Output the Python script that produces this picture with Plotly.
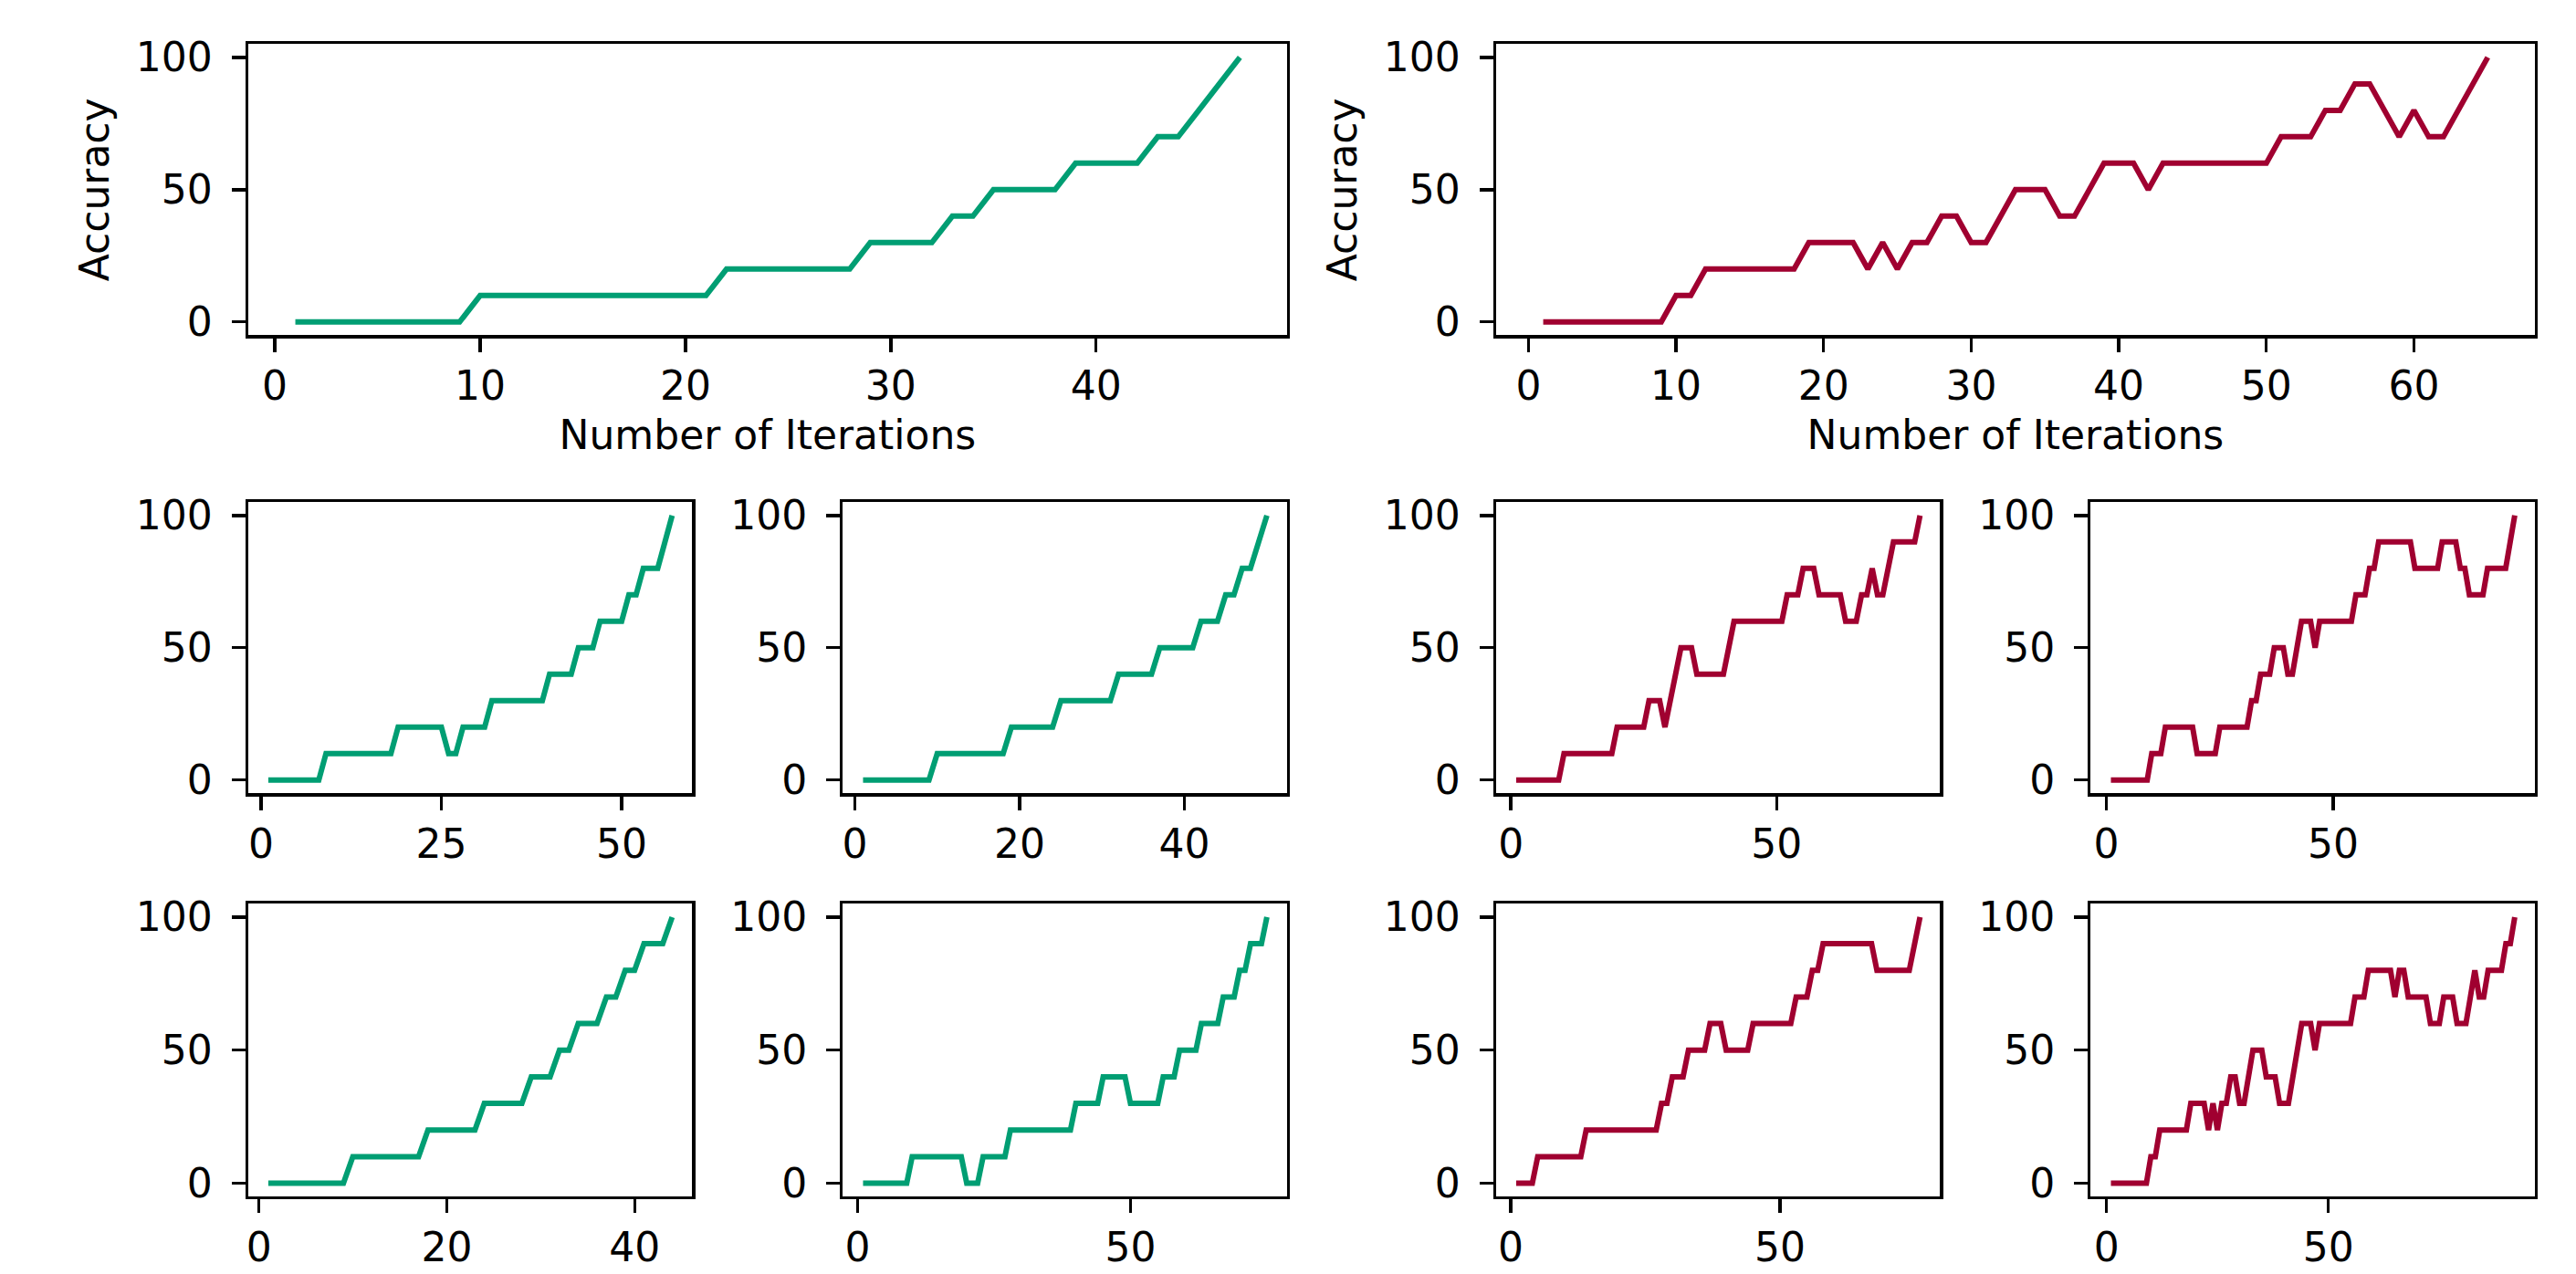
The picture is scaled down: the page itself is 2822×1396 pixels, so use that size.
import plotly.graph_objects as go

# ---------------- data (accuracy %, one value per iteration) ----------------
acc_green_main = [0, 0, 0, 0, 0, 0, 0, 0, 0,
                  10, 10, 10, 10, 10, 10, 10, 10, 10, 10, 10, 10,
                  20, 20, 20, 20, 20, 20, 20,
                  30, 30, 30, 30, 40, 40, 50, 50, 50, 50,
                  60, 60, 60, 60, 70, 70, 80, 90, 100]

acc_red_main = [0, 0, 0, 0, 0, 0, 0, 0, 0, 10, 10,
                20, 20, 20, 20, 20, 20, 20,
                30, 30, 30, 30, 20, 30, 20, 30, 30, 40, 40, 30, 30, 40,
                50, 50, 50, 40, 40, 50, 60, 60, 60, 50,
                60, 60, 60, 60, 60, 60, 60, 60,
                70, 70, 70, 80, 80, 90, 90, 80, 70, 80, 70, 70, 80, 90, 100]

acc_green_1 = [0, 0, 0, 0, 0, 0, 0, 0,
               10, 10, 10, 10, 10, 10, 10, 10, 10, 10,
               20, 20, 20, 20, 20, 20, 20, 10, 10, 20, 20, 20, 20,
               30, 30, 30, 30, 30, 30, 30, 30,
               40, 40, 40, 40, 50, 50, 50, 60, 60, 60, 60,
               70, 70, 80, 80, 80, 90, 100]

acc_green_2 = [0, 0, 0, 0, 0, 0, 0, 0, 0,
               10, 10, 10, 10, 10, 10, 10, 10, 10,
               20, 20, 20, 20, 20, 20,
               30, 30, 30, 30, 30, 30, 30,
               40, 40, 40, 40, 40, 50, 50, 50, 50, 50,
               60, 60, 60, 70, 70, 80, 80, 90, 100]

acc_green_3 = [0, 0, 0, 0, 0, 0, 0, 0, 0,
               10, 10, 10, 10, 10, 10, 10, 10,
               20, 20, 20, 20, 20, 20,
               30, 30, 30, 30, 30, 40, 40, 40, 50, 50,
               60, 60, 60, 70, 70, 80, 80, 90, 90, 90, 100]

acc_green_4 = [0, 0, 0, 0, 0, 0, 0, 0, 0,
               10, 10, 10, 10, 10, 10, 10, 10, 10, 10,
               0, 0, 0, 10, 10, 10, 10, 10,
               20, 20, 20, 20, 20, 20, 20, 20, 20, 20, 20, 20,
               30, 30, 30, 30, 30, 40, 40, 40, 40, 40,
               30, 30, 30, 30, 30, 30, 40, 40, 40,
               50, 50, 50, 50, 60, 60, 60, 60, 70, 70, 70,
               80, 80, 90, 90, 90, 100]

acc_red_1 = [0, 0, 0, 0, 0, 0, 0, 0, 0,
             10, 10, 10, 10, 10, 10, 10, 10, 10, 10,
             20, 20, 20, 20, 20, 20, 30, 30, 30, 20, 30, 40, 50, 50, 50,
             40, 40, 40, 40, 40, 40, 50,
             60, 60, 60, 60, 60, 60, 60, 60, 60, 60,
             70, 70, 70, 80, 80, 80, 70, 70, 70, 70, 70,
             60, 60, 60, 70, 70, 80, 70, 70, 80, 90, 90, 90, 90, 90, 100]

acc_red_2 = [0, 0, 0, 0, 0, 0, 0, 0, 0, 10, 10, 10,
             20, 20, 20, 20, 20, 20, 20, 10, 10, 10, 10, 10,
             20, 20, 20, 20, 20, 20, 20, 30, 30, 40, 40, 40,
             50, 50, 50, 40, 40, 50, 60, 60, 60, 50,
             60, 60, 60, 60, 60, 60, 60, 60, 70, 70, 70, 80, 80,
             90, 90, 90, 90, 90, 90, 90, 90, 80, 80, 80, 80, 80, 80,
             90, 90, 90, 90, 80, 80, 70, 70, 70, 70,
             80, 80, 80, 80, 80, 90, 100]

acc_red_3 = [0, 0, 0, 0, 10, 10, 10, 10, 10, 10, 10, 10, 10,
             20, 20, 20, 20, 20, 20, 20, 20, 20, 20, 20, 20, 20, 20,
             30, 30, 40, 40, 40, 50, 50, 50, 50, 60, 60, 60,
             50, 50, 50, 50, 50, 60, 60, 60, 60, 60, 60, 60, 60,
             70, 70, 70, 80, 80,
             90, 90, 90, 90, 90, 90, 90, 90, 90, 90,
             80, 80, 80, 80, 80, 80, 80, 90, 100]

acc_red_4 = [0, 0, 0, 0, 0, 0, 0, 0, 0, 10, 10,
             20, 20, 20, 20, 20, 20, 20, 30, 30, 30, 30,
             20, 30, 20, 30, 30, 40, 40, 30, 30, 40, 50, 50, 50,
             40, 40, 40, 30, 30, 30, 40, 50, 60, 60, 60, 50,
             60, 60, 60, 60, 60, 60, 60, 60, 70, 70, 70,
             80, 80, 80, 80, 80, 80, 70, 80, 80, 70, 70, 70, 70, 70,
             60, 60, 60, 70, 70, 70, 60, 60, 60, 70, 80, 70, 70,
             80, 80, 80, 80, 90, 90, 100]

xticks_main_green = [0, 10, 20, 30, 40]
xticks_main_red = [0, 10, 20, 30, 40, 50, 60]
xticks_g1 = [0, 25, 50]
xticks_g2 = [0, 20, 40]
xticks_g3 = [0, 20, 40]
xticks_50 = [0, 50]
yticks = [0, 50, 100]

x_title = "Number of Iterations"
y_title = "Accuracy"

GREEN = "#009E73"
RED = "#A00030"

# ---------------- layout (pixel boxes) ----------------
W, H = 2822, 1396
col_l = [(270, 757), (922, 1409)]
col_r = [(1638, 2125), (2290, 2777)]
row_top = (38, 362)
row_mid = (548, 872)
row_bot = (995, 1321)

panels = [
    (acc_green_main, GREEN, xticks_main_green, (270, 1409), row_top, True),
    (acc_red_main, RED, xticks_main_red, (1638, 2777), row_top, True),
    (acc_green_1, GREEN, xticks_g1, col_l[0], row_mid, False),
    (acc_green_2, GREEN, xticks_g2, col_l[1], row_mid, False),
    (acc_red_1, RED, xticks_50, col_r[0], row_mid, False),
    (acc_red_2, RED, xticks_50, col_r[1], row_mid, False),
    (acc_green_3, GREEN, xticks_g3, col_l[0], row_bot, False),
    (acc_green_4, GREEN, xticks_50, col_l[1], row_bot, False),
    (acc_red_3, RED, xticks_50, col_r[0], row_bot, False),
    (acc_red_4, RED, xticks_50, col_r[1], row_bot, False),
]

font = dict(family="DejaVu Sans", size=44, color="black")
common = dict(showline=True, mirror=True, linecolor="black", linewidth=3.3,
              ticks="outside", ticklen=15, tickwidth=3.3, tickcolor="black",
              showgrid=False, zeroline=False, tickfont=font)

fig = go.Figure()
layout = {}
for i, (acc, color, xt, (x0, x1), (y0, y1), titled) in enumerate(panels, start=1):
    sfx = "" if i == 1 else str(i)
    n = len(acc)
    iters = list(range(1, n + 1))
    fig.add_trace(go.Scatter(x=iters, y=acc, mode="lines",
                             line=dict(color=color, width=6),
                             xaxis="x" + sfx, yaxis="y" + sfx,
                             showlegend=False, hoverinfo="skip"))
    pad = 0.05 * (n - 1)
    xa = dict(common, domain=[x0 / W, x1 / W], anchor="y" + sfx,
              range=[1 - pad, n + pad], tickvals=xt, ticklabelstandoff=0)
    ya = dict(common, domain=[1 - y1 / H, 1 - y0 / H], anchor="x" + sfx,
              range=[-5, 105], tickvals=yticks, ticklabelstandoff=12)
    if titled:
        xa["title"] = dict(text=x_title, font=font, standoff=14)
        ya["title"] = dict(text=y_title, font=font, standoff=16)
    layout["xaxis" + sfx] = xa
    layout["yaxis" + sfx] = ya

fig.update_layout(**layout)
fig.update_layout(width=W, height=H, autosize=False,
                  margin=dict(l=0, r=0, t=0, b=0),
                  paper_bgcolor="white", plot_bgcolor="white")

fig.write_html("out.html", config={"displayModeBar": False, "staticPlot": True},
               post_script="document.body.style.margin='0';document.body.style.overflow='hidden';")
